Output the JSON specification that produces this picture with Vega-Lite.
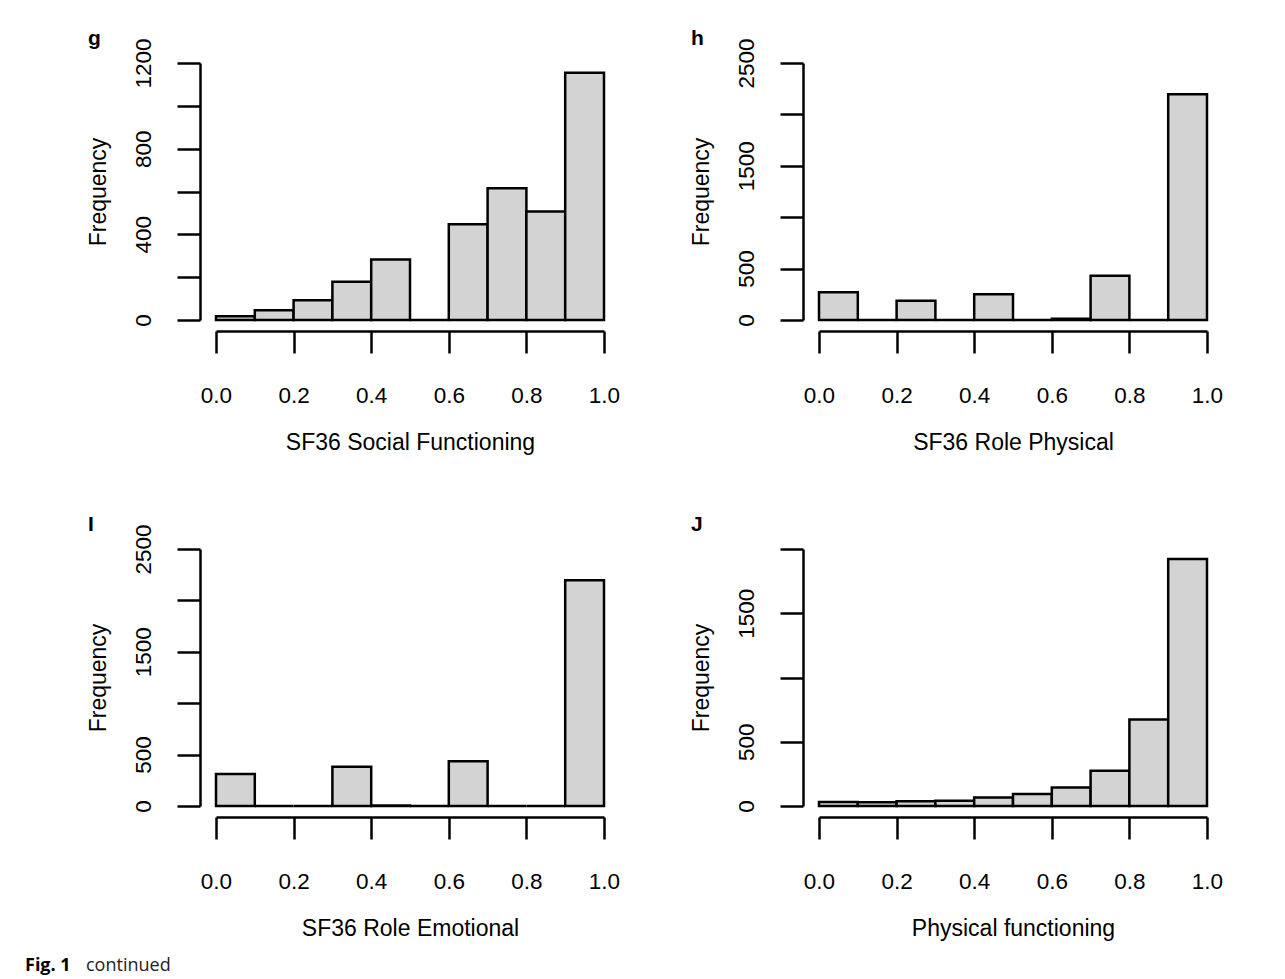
{
  "$schema": "https://vega.github.io/schema/vega-lite/v6.json",
  "background": "white",
  "padding": {"left": 25, "top": 27, "right": 10, "bottom": 5},
  "datasets": {
    "hist": [
      {"panel": "g", "lo": 0.0, "hi": 0.1, "count": 18},
      {"panel": "g", "lo": 0.1, "hi": 0.2, "count": 45},
      {"panel": "g", "lo": 0.2, "hi": 0.3, "count": 92},
      {"panel": "g", "lo": 0.3, "hi": 0.4, "count": 179},
      {"panel": "g", "lo": 0.4, "hi": 0.5, "count": 282},
      {"panel": "g", "lo": 0.5, "hi": 0.6, "count": 0},
      {"panel": "g", "lo": 0.6, "hi": 0.7, "count": 447},
      {"panel": "g", "lo": 0.7, "hi": 0.8, "count": 615},
      {"panel": "g", "lo": 0.8, "hi": 0.9, "count": 507},
      {"panel": "g", "lo": 0.9, "hi": 1.0, "count": 1155},
      {"panel": "h", "lo": 0.0, "hi": 0.1, "count": 269},
      {"panel": "h", "lo": 0.1, "hi": 0.2, "count": 0},
      {"panel": "h", "lo": 0.2, "hi": 0.3, "count": 188},
      {"panel": "h", "lo": 0.3, "hi": 0.4, "count": 0},
      {"panel": "h", "lo": 0.4, "hi": 0.5, "count": 250},
      {"panel": "h", "lo": 0.5, "hi": 0.6, "count": 0},
      {"panel": "h", "lo": 0.6, "hi": 0.7, "count": 13},
      {"panel": "h", "lo": 0.7, "hi": 0.8, "count": 431},
      {"panel": "h", "lo": 0.8, "hi": 0.9, "count": 0},
      {"panel": "h", "lo": 0.9, "hi": 1.0, "count": 2196},
      {"panel": "i", "lo": 0.0, "hi": 0.1, "count": 311},
      {"panel": "i", "lo": 0.1, "hi": 0.2, "count": 0},
      {"panel": "i", "lo": 0.2, "hi": 0.3, "count": 0},
      {"panel": "i", "lo": 0.3, "hi": 0.4, "count": 383},
      {"panel": "i", "lo": 0.4, "hi": 0.5, "count": 6},
      {"panel": "i", "lo": 0.5, "hi": 0.6, "count": 0},
      {"panel": "i", "lo": 0.6, "hi": 0.7, "count": 435},
      {"panel": "i", "lo": 0.7, "hi": 0.8, "count": 0},
      {"panel": "i", "lo": 0.8, "hi": 0.9, "count": 0},
      {"panel": "i", "lo": 0.9, "hi": 1.0, "count": 2196},
      {"panel": "j", "lo": 0.0, "hi": 0.1, "count": 31},
      {"panel": "j", "lo": 0.1, "hi": 0.2, "count": 30},
      {"panel": "j", "lo": 0.2, "hi": 0.3, "count": 36},
      {"panel": "j", "lo": 0.3, "hi": 0.4, "count": 41},
      {"panel": "j", "lo": 0.4, "hi": 0.5, "count": 67},
      {"panel": "j", "lo": 0.5, "hi": 0.6, "count": 93},
      {"panel": "j", "lo": 0.6, "hi": 0.7, "count": 143},
      {"panel": "j", "lo": 0.7, "hi": 0.8, "count": 275},
      {"panel": "j", "lo": 0.8, "hi": 0.9, "count": 674},
      {"panel": "j", "lo": 0.9, "hi": 1.0, "count": 1923}
    ]
  },
  "title": {
    "text": "Fig. 1",
    "orient": "bottom",
    "anchor": "start",
    "frame": "bounds",
    "font": "Open Sans",
    "fontSize": 18,
    "fontWeight": "bold",
    "color": "black",
    "dx": -61,
    "offset": -18
  },
  "vconcat": [
    {
      "title": {
        "text": "continued",
        "orient": "bottom",
        "anchor": "start",
        "frame": "bounds",
        "font": "Open Sans",
        "fontSize": 18,
        "fontWeight": "normal",
        "color": "#222",
        "dx": -1,
        "offset": 16
      },
      "columns": 2,
      "spacing": {"column": 70, "row": 58},
      "concat": [
        {
          "width": 388,
          "height": 257,
          "title": {"text": "g"},
          "data": {"name": "hist"},
          "transform": [{"filter": "datum.panel == 'g'"}],
          "mark": {"type": "rect", "fill": "#d3d3d3", "stroke": "black", "strokeWidth": 2.5},
          "encoding": {
            "x": {"field": "lo", "type": "quantitative", "scale": {"domain": [0, 1], "nice": false, "zero": false},
                  "axis": {"title": "SF36 Social Functioning", "values": [0, 0.2, 0.4, 0.6, 0.8, 1.0]}},
            "x2": {"field": "hi"},
            "y": {"field": "count", "type": "quantitative", "scale": {"domain": [0, 1200], "nice": false},
                  "axis": {"title": "Frequency", "values": [0, 200, 400, 600, 800, 1000, 1200], "labelExpr": "datum.value % 400 == 0 ? datum.label : ''"}},
            "y2": {"datum": 0}
          }
        },
        {
          "width": 388,
          "height": 257,
          "title": {"text": "h"},
          "data": {"name": "hist"},
          "transform": [{"filter": "datum.panel == 'h'"}],
          "mark": {"type": "rect", "fill": "#d3d3d3", "stroke": "black", "strokeWidth": 2.5},
          "encoding": {
            "x": {"field": "lo", "type": "quantitative", "scale": {"domain": [0, 1], "nice": false, "zero": false},
                  "axis": {"title": "SF36 Role Physical", "values": [0, 0.2, 0.4, 0.6, 0.8, 1.0]}},
            "x2": {"field": "hi"},
            "y": {"field": "count", "type": "quantitative", "scale": {"domain": [0, 2500], "nice": false},
                  "axis": {"title": "Frequency", "values": [0, 500, 1000, 1500, 2000, 2500], "labelExpr": "datum.value == 1000 || datum.value == 2000 ? '' : datum.label"}},
            "y2": {"datum": 0}
          }
        },
        {
          "width": 388,
          "height": 257,
          "title": {"text": "I"},
          "data": {"name": "hist"},
          "transform": [{"filter": "datum.panel == 'i'"}],
          "mark": {"type": "rect", "fill": "#d3d3d3", "stroke": "black", "strokeWidth": 2.5},
          "encoding": {
            "x": {"field": "lo", "type": "quantitative", "scale": {"domain": [0, 1], "nice": false, "zero": false},
                  "axis": {"title": "SF36 Role Emotional", "values": [0, 0.2, 0.4, 0.6, 0.8, 1.0]}},
            "x2": {"field": "hi"},
            "y": {"field": "count", "type": "quantitative", "scale": {"domain": [0, 2500], "nice": false},
                  "axis": {"title": "Frequency", "values": [0, 500, 1000, 1500, 2000, 2500], "labelExpr": "datum.value == 1000 || datum.value == 2000 ? '' : datum.label"}},
            "y2": {"datum": 0}
          }
        },
        {
          "width": 388,
          "height": 257,
          "title": {"text": "J", "offset": 13},
          "data": {"name": "hist"},
          "transform": [{"filter": "datum.panel == 'j'"}],
          "mark": {"type": "rect", "fill": "#d3d3d3", "stroke": "black", "strokeWidth": 2.5},
          "encoding": {
            "x": {"field": "lo", "type": "quantitative", "scale": {"domain": [0, 1], "nice": false, "zero": false},
                  "axis": {"title": "Physical functioning", "values": [0, 0.2, 0.4, 0.6, 0.8, 1.0]}},
            "x2": {"field": "hi"},
            "y": {"field": "count", "type": "quantitative", "scale": {"domain": [0, 2000], "nice": false},
                  "axis": {"title": "Frequency", "values": [0, 500, 1000, 1500, 2000], "labelExpr": "datum.value == 1000 || datum.value == 2000 ? '' : datum.label"}},
            "y2": {"datum": 0}
          }
        }
      ]
    }
  ],
  "config": {
    "view": {"stroke": null},
    "font": "Liberation Sans",
    "title": {
      "anchor": "start",
      "frame": "bounds",
      "font": "Liberation Sans",
      "fontSize": 21,
      "fontWeight": "bold",
      "color": "black",
      "dx": 1,
      "offset": -11
    },
    "axis": {
      "grid": false,
      "domainColor": "black",
      "domainWidth": 2.5,
      "tickColor": "black",
      "tickWidth": 2.5,
      "tickSize": 23,
      "labelFont": "Liberation Sans",
      "labelFontSize": 22.5,
      "labelColor": "black",
      "labelFlush": false,
      "labelOverlap": false,
      "titleFont": "Liberation Sans",
      "titleFontSize": 23,
      "titleFontWeight": "normal",
      "titleColor": "black"
    },
    "axisX": {
      "offset": 11,
      "tickSize": 22,
      "labelPadding": 31,
      "titlePadding": 25,
      "format": ".1f"
    },
    "axisY": {
      "offset": 16,
      "labelAngle": -90,
      "labelAlign": "center",
      "labelBaseline": "alphabetic",
      "labelPadding": 27,
      "titlePadding": 22,
      "format": "d"
    }
  }
}
